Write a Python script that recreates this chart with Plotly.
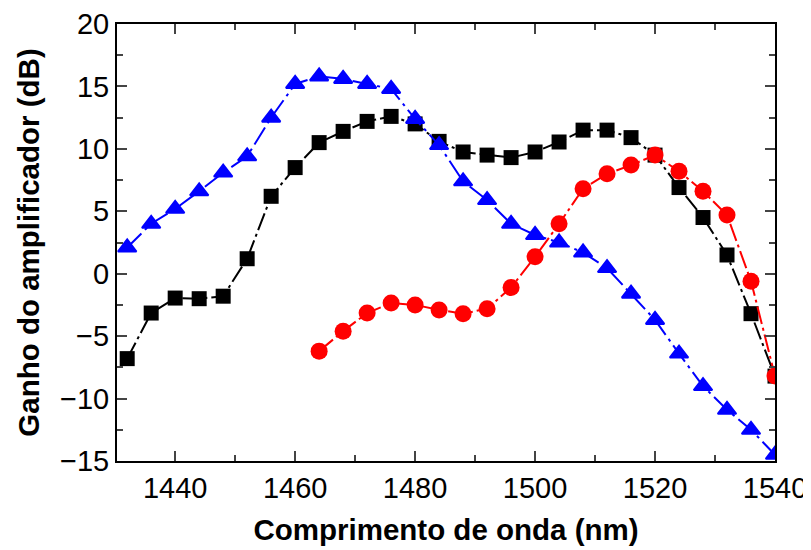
import plotly.graph_objects as go

# comprimentos de onda (nm)
wl = list(range(1432, 1541, 4))
wl_red = list(range(1464, 1541, 4))

ganho_preto = [-6.8, -3.15, -1.95, -2.0, -1.8, 1.2, 6.2, 8.5, 10.5, 11.4, 12.2, 12.6, 12.0, 10.6,
               9.75, 9.5, 9.3, 9.75, 10.55, 11.5, 11.5, 10.9, 9.5, 6.9, 4.5, 1.5, -3.2, -8.2]
ganho_azul = [2.1, 4.0, 5.2, 6.6, 8.1, 9.4, 12.5, 15.2, 15.8, 15.6, 15.2, 14.8, 12.4, 10.3,
              7.4, 5.9, 4.0, 3.1, 2.5, 1.7, 0.45, -1.6, -3.7, -6.4, -9.0, -10.9, -12.5, -14.5]
ganho_vermelho = [-6.2, -4.6, -3.15, -2.35, -2.5, -2.9, -3.2, -2.8, -1.1, 1.35, 4.0, 6.8, 8.0,
                  8.7, 9.5, 8.2, 6.6, 4.7, -0.6, -8.2]

x_ticks = [1440, 1460, 1480, 1500, 1520, 1540]
y_ticks = [-15, -10, -5, 0, 5, 10, 15, 20]

fig = go.Figure()

fig.add_trace(go.Scatter(x=wl, y=ganho_preto, mode='lines+markers',
                         line=dict(color='black', width=2, dash='18px,4px,3px,4px'),
                         marker=dict(symbol='square', size=15, color='black')))
fig.add_trace(go.Scatter(x=wl, y=ganho_azul, mode='lines+markers',
                         line=dict(color='blue', width=2, dash='20px,5px,3px,5px'),
                         marker=dict(symbol='triangle-up', size=16, color='blue',
                                     line=dict(color='blue', width=2))))
fig.add_trace(go.Scatter(x=wl_red, y=ganho_vermelho, mode='lines+markers',
                         line=dict(color='red', width=2, dash='18px,4px,3px,4px'),
                         marker=dict(symbol='circle', size=17, color='red')))

eixo = dict(ticks='inside', ticklen=10, tickwidth=1.5, showline=True, linewidth=2,
            linecolor='black', mirror='allticks', showgrid=False, zeroline=False,
            tickfont=dict(size=29), automargin=False, ticklabeloverflow='allow')

# a página tem margem de 8px no body, por isso as margens estão deslocadas
fig.update_layout(
    width=811, height=550,
    margin=dict(l=109, r=44, t=16, b=97),
    plot_bgcolor='white', paper_bgcolor='white',
    showlegend=False,
    font=dict(family='Liberation Sans, Arial, sans-serif', color='black'),
    xaxis=dict(eixo, range=[1430.3, 1540], tickvals=x_ticks,
               minor=dict(dtick=10, ticks='inside', ticklen=6, tickwidth=1.5, tick0=1430),
               title=dict(text='<b>Comprimento de onda (nm)</b>', font=dict(size=29.5), standoff=17)),
    yaxis=dict(eixo, range=[-15, 20], tickvals=y_ticks,
               minor=dict(dtick=2.5, ticks='inside', ticklen=6, tickwidth=1.5, tick0=0),
               title=dict(text='<b>Ganho do amplificador (dB)</b>', font=dict(size=29.5), standoff=12)),
)

fig.write_html("out.html")
